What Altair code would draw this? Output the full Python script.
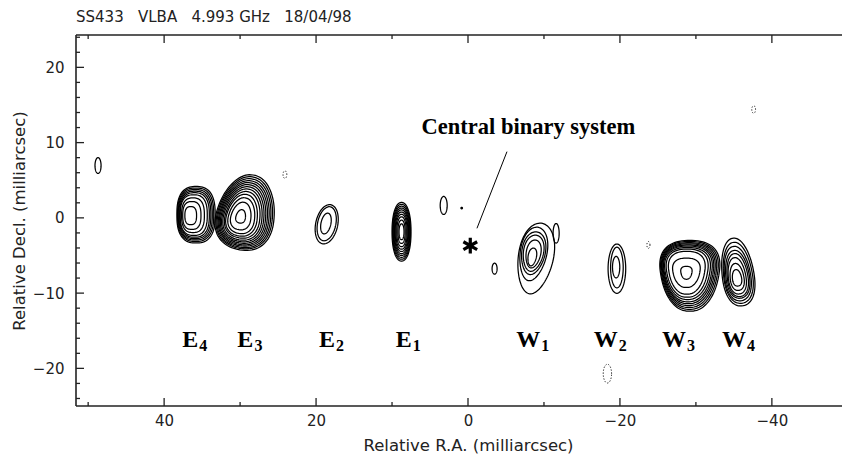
import altair as alt
import pandas as pd

# ---------------- axes ----------------
X_DOMAIN = [-51.6, 51.6]      # R.A. increases to the left (reversed scale)
Y_DOMAIN = [-25.0, 24.3]
FULL_W = 784                  # full frame width (right part falls outside the page)
PLOT_W, PLOT_H = 766, 371

x_major = [40, 20, 0, -20, -40]
x_minor = [50, 30, 10, -10, -30, -50]
y_major = [20, 10, 0, -10, -20]
y_minor = [24, 22, 18, 16, 14, 12, 8, 6, 4, 2, -2, -4, -6, -8,
           -12, -14, -16, -18, -22, -24]

GAP = "\u00a0" * 3
TITLE = f"SS433{GAP}VLBA{GAP}4.993 GHz{GAP}18/04/98"

# ---------------- contour components (centre x, centre y, semi-axes a, b per level) ----------------
E4_x = [35.8, 35.85, 35.9, 35.95, 36.0, 36.1, 36.2, 36.35, 36.5]
E4_y = [0.42, 0.42, 0.41, 0.40, 0.39, 0.37, 0.35, 0.32, 0.30]
E4_a = [2.52, 2.38, 2.24, 2.10, 1.95, 1.78, 1.50, 1.20, 0.77]
E4_b = [3.75, 3.55, 3.35, 3.15, 2.95, 2.70, 2.30, 1.85, 1.20]

E3_x = [29.2, 29.25, 29.3, 29.35, 29.4, 29.45, 29.5, 29.55, 29.6, 29.7, 29.75, 29.85, 29.9]
E3_y = [0.73, 0.70, 0.66, 0.62, 0.58, 0.54, 0.50, 0.46, 0.42, 0.36, 0.30, 0.25, 0.20]
E3_a = [3.75, 3.57, 3.40, 3.22, 3.05, 2.87, 2.68, 2.48, 2.25, 2.00, 1.70, 1.30, 0.62]
E3_b = [5.05, 4.82, 4.60, 4.37, 4.15, 3.92, 3.68, 3.42, 3.12, 2.80, 2.40, 1.85, 0.90]

E2_x = [18.6, 18.6, 18.7]
E2_y = [-0.85, -0.78, -0.75]
E2_a = [1.45, 1.20, 0.65]
E2_b = [2.65, 2.30, 1.40]

E1_x = [8.75] * 10
E1_y = [-1.85] * 10
E1_a = [1.25, 1.17, 1.09, 1.01, 0.93, 0.84, 0.74, 0.62, 0.48, 0.33]
E1_b = [3.90, 3.65, 3.40, 3.15, 2.90, 2.62, 2.32, 1.98, 1.55, 1.05]

W1_x = [-8.9, -8.6, -8.6, -8.6, -8.6, -8.45]
W1_y = [-5.4, -4.8, -4.7, -4.7, -4.8, -5.2]
W1_a = [2.30, 1.75, 1.54, 1.32, 0.96, 0.55]
W1_b = [4.75, 3.60, 2.87, 2.43, 1.88, 1.20]

W2_x = [-19.6, -19.6, -19.5]
W2_y = [-6.75, -6.6, -6.55]
W2_a = [1.16, 0.83, 0.48]
W2_b = [3.27, 2.70, 1.43]

W3_x = [-29.2, -29.15, -29.1, -29.05, -29.0, -28.95, -28.9, -28.85, -28.8, -28.75, -28.75]
W3_y = [-7.7, -7.65, -7.6, -7.55, -7.5, -7.45, -7.4, -7.35, -7.3, -7.3, -7.3]
W3_a = [3.80, 3.65, 3.50, 3.36, 3.22, 3.08, 2.90, 2.66, 2.33, 1.75, 0.72]
W3_b = [4.70, 4.50, 4.30, 4.10, 3.90, 3.70, 3.45, 3.20, 2.85, 1.95, 0.86]

W4_x = [-35.5, -35.5, -35.45, -35.45, -35.45, -35.4, -35.4, -35.4]
W4_y = [-7.2, -7.3, -7.4, -7.5, -7.6, -7.7, -7.85, -7.97]
W4_a = [2.08, 1.88, 1.70, 1.53, 1.35, 1.15, 0.90, 0.60]
W4_b = [4.53, 4.08, 3.64, 3.20, 2.87, 2.43, 1.80, 1.10]

# single faint features: x, y, a, b
knots_x = [48.7, 3.2, 0.83, -3.5, -11.6]
knots_y = [6.95, 1.65, 1.3, -6.75, -2.05]
knots_a = [0.40, 0.46, 0.10, 0.33, 0.40]
knots_b = [1.05, 1.20, 0.10, 0.73, 1.30]

neg_x = [24.1, -23.75, -37.6, -18.35]
neg_y = [5.75, -3.6, 14.4, -20.7]
neg_a = [0.25, 0.20, 0.25, 0.55]
neg_b = [0.50, 0.45, 0.50, 1.25]

# name, rotation (deg), superellipse exponent, taper (top wider > 0), dotted, arrays
components = [
    ("E4", 0, 2.6, 0.0, 0, E4_x, E4_y, E4_a, E4_b),
    ("E3", -12, 2.2, -0.18, 0, E3_x, E3_y, E3_a, E3_b),
    ("E2", -12, 2.0, 0.0, 0, E2_x, E2_y, E2_a, E2_b),
    ("E1", 0, 2.2, 0.0, 0, E1_x, E1_y, E1_a, E1_b),
    ("W1", -10, 2.0, 0.12, 0, W1_x, W1_y, W1_a, W1_b),
    ("W2", 0, 2.0, 0.0, 0, W2_x, W2_y, W2_a, W2_b),
    ("W3", 0, 2.4, 0.22, 0, W3_x, W3_y, W3_a, W3_b),
    ("W4", 8, 2.2, -0.12, 0, W4_x, W4_y, W4_a, W4_b),
    ("K", 0, 2.0, 0.0, 0, knots_x, knots_y, knots_a, knots_b),
    ("N", 0, 2.0, 0.0, 1, neg_x, neg_y, neg_a, neg_b),
]

rows = []
for name, rot, n, taper, dotted, xs_, ys_, as_, bs_ in components:
    for i, (cx, cy, a, b) in enumerate(zip(xs_, ys_, as_, bs_)):
        rows.append(dict(cid=f"{name}_{i}", cx=cx, cy=cy, a=a, b=b,
                         rot=rot, n=n, k=taper, dotted=dotted))
contours = pd.DataFrame(rows)

# component labels
lab_letter = ["E", "E", "E", "E", "W", "W", "W", "W"]
lab_digit = ["4", "3", "2", "1", "1", "2", "3", "4"]
lab_x = [35.5, 28.25, 17.5, 7.4, -9.5, -19.7, -28.7, -36.6]
lab_y = [-17.15] * 8

# central binary annotation
star_x, star_y = [-0.3], [-3.7]
note_text, note_x, note_y = ["Central binary system"], [-7.96], [11.1]
ptr_x1, ptr_y1, ptr_x2, ptr_y2 = [-5.13], [8.8], [-1.18], [-1.39]

# ---------------- chart ----------------
xs = alt.Scale(domain=X_DOMAIN, range=[0, FULL_W], reverse=True, nice=False, zero=False)
ys = alt.Scale(domain=Y_DOMAIN, nice=False, zero=False)
x_axis = alt.Axis(title="Relative R.A. (milliarcsec)", values=x_major,
                  labelPadding=7, titlePadding=9)
y_axis = alt.Axis(title="Relative Decl. (milliarcsec)", values=y_major,
                  labelPadding=12, titlePadding=5)


def X(f="x"):
    return alt.X(f"{f}:Q", scale=xs, axis=x_axis)


def Y(f="y"):
    return alt.Y(f"{f}:Q", scale=ys, axis=y_axis)


rad = "PI/180"
base = (
    alt.Chart(contours)
    .transform_calculate(t="sequence(0, 364, 4)")
    .transform_flatten(["t"])
    .transform_calculate(
        ct=f"cos(datum.t*{rad})", st=f"sin(datum.t*{rad})"
    )
    .transform_calculate(
        ce="(datum.ct < 0 ? -1 : 1) * pow(abs(datum.ct), 2/datum.n)",
        se="(datum.st < 0 ? -1 : 1) * pow(abs(datum.st), 2/datum.n)",
    )
    .transform_calculate(ce2="datum.ce * (1 + datum.k * datum.se)")
    .transform_calculate(
        u=f"datum.a*datum.ce2*cos(datum.rot*{rad}) - datum.b*datum.se*sin(datum.rot*{rad})",
        v=f"datum.a*datum.ce2*sin(datum.rot*{rad}) + datum.b*datum.se*cos(datum.rot*{rad})",
    )
    .transform_calculate(x="datum.cx - datum.u", y="datum.cy + datum.v")
)

solid = base.transform_filter("datum.dotted == 0").mark_line(
    color="black", strokeWidth=1.25
).encode(x=X(), y=Y(), detail="cid:N", order="t:Q")

dotted = base.transform_filter("datum.dotted == 1").mark_line(
    color="black", strokeWidth=1.0, strokeDash=[1.2, 1.8]
).encode(x=X(), y=Y(), detail="cid:N", order="t:Q")

ptr_df = pd.DataFrame(dict(x=ptr_x1, y=ptr_y1, x2=ptr_x2, y2=ptr_y2))
pointer = alt.Chart(ptr_df).mark_rule(color="black", strokeWidth=1.0).encode(
    x=X(), y=Y(), x2="x2:Q", y2="y2:Q"
)

STAR = "M0,-1L0,1M-0.87,-0.5L0.87,0.5M-0.87,0.5L0.87,-0.5"
star = alt.Chart(pd.DataFrame(dict(x=star_x, y=star_y))).mark_point(
    shape=STAR, size=250, filled=False, color="black", strokeWidth=3.2, opacity=1
).encode(x=X(), y=Y())

note = alt.Chart(pd.DataFrame(dict(x=note_x, y=note_y, t=note_text))).mark_text(
    font="Liberation Serif", fontWeight="bold", fontSize=22.5, align="center",
    baseline="alphabetic", color="black"
).encode(x=X(), y=Y(), text="t:N")

lab_df = pd.DataFrame(dict(x=lab_x, y=lab_y, L=lab_letter, D=lab_digit))
letters = alt.Chart(lab_df).mark_text(
    font="Liberation Serif", fontWeight="bold", fontSize=24, align="right",
    baseline="alphabetic", color="black"
).encode(x=X(), y=Y(), text="L:N")
digits = alt.Chart(lab_df).mark_text(
    font="Liberation Serif", fontWeight="bold", fontSize=16, align="left",
    baseline="alphabetic", dy=4, dx=1, color="black"
).encode(x=X(), y=Y(), text="D:N")

# frame (drawn as rules so that its right side runs off the page like the original)
FR = dict(color="#222", strokeWidth=1.6)
frame_layers = [
    alt.Chart(pd.DataFrame({"x": [0]})).mark_rule(**FR).encode(
        x=alt.value(0), x2=alt.value(FULL_W), y=alt.value(0)),
    alt.Chart(pd.DataFrame({"x": [0]})).mark_rule(**FR).encode(
        x=alt.value(0), x2=alt.value(FULL_W), y=alt.value(PLOT_H)),
    alt.Chart(pd.DataFrame({"x": [0]})).mark_rule(**FR).encode(
        x=alt.value(0), y=alt.value(0), y2=alt.value(PLOT_H)),
]

# inward frame ticks
xmaj = pd.DataFrame(dict(x=x_major))
xmin = pd.DataFrame(dict(x=x_minor))
ymaj = pd.DataFrame(dict(y=y_major))
ymin = pd.DataFrame(dict(y=y_minor))
TK = dict(color="#222", strokeWidth=1.3)
tick_layers = [
    alt.Chart(xmaj).mark_rule(**TK).encode(x=X(), y=alt.value(PLOT_H), y2=alt.value(PLOT_H - 8)),
    alt.Chart(xmaj).mark_rule(**TK).encode(x=X(), y=alt.value(0), y2=alt.value(8)),
    alt.Chart(xmin).mark_rule(**TK).encode(x=X(), y=alt.value(PLOT_H), y2=alt.value(PLOT_H - 4)),
    alt.Chart(xmin).mark_rule(**TK).encode(x=X(), y=alt.value(0), y2=alt.value(4)),
    alt.Chart(ymaj).mark_rule(**TK).encode(y=Y(), x=alt.value(0), x2=alt.value(8)),
    alt.Chart(ymin).mark_rule(**TK).encode(y=Y(), x=alt.value(0), x2=alt.value(4)),
]

chart = (
    alt.layer(solid, dotted, pointer, star, note, letters, digits,
              *frame_layers, *tick_layers)
    .properties(
        width=PLOT_W, height=PLOT_H,
        background="white",
        title=alt.TitleParams(TITLE, anchor="start", frame="group", offset=9.5,
                              font="DejaVu Sans", fontSize=15, fontWeight="normal",
                              color="#222"),
        padding={"left": 68, "top": 27, "right": 0, "bottom": 48},
        autosize=alt.AutoSizeParams(type="none"),
    )
    .configure_view(stroke=None)
    .configure_axis(ticks=False, grid=False, domain=False,
                    labelFont="DejaVu Sans", labelFontSize=15, labelColor="#222",
                    titleFont="DejaVu Sans", titleFontSize=16.5, titleFontWeight="normal",
                    titleColor="#222")
)

chart.save("out.html", embed_options={"renderer": "svg", "actions": False})
